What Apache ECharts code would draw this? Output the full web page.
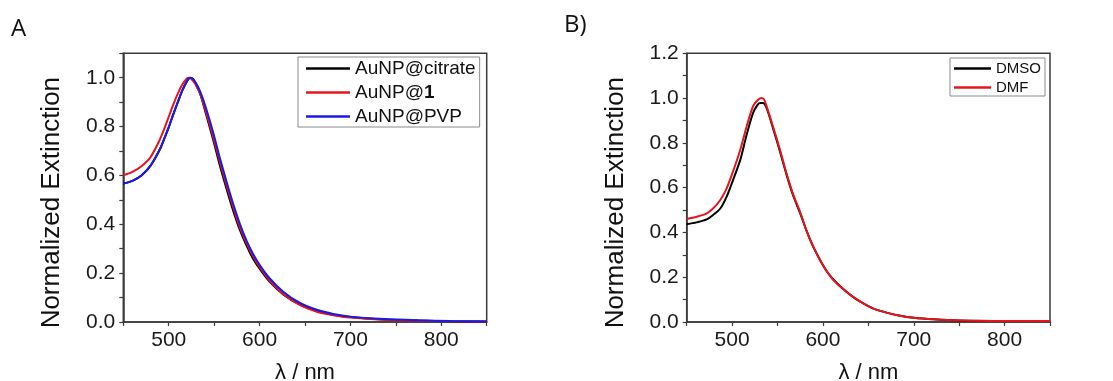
<!DOCTYPE html>
<html>
<head>
<meta charset="utf-8">
<script src="https://cdn.jsdelivr.net/npm/echarts@6/dist/echarts.min.js"></script>
<style>
html,body{margin:0;padding:0;background:#fff;}
#c{width:1113px;height:381px;}
</style>
</head>
<body>
<div id="c"></div>
<script>
// Panel A: wavelength (nm) and normalized extinction
const citrateX = [450,460,470,480,490,495,500,505,510,515,520,524,527,530,535,541.5,549,556,564,571,578.5,586,593,600,611,626,644,663,681,700,737,774,811,850];
const citrateY = [0.567,0.578,0.600,0.640,0.705,0.750,0.797,0.850,0.900,0.948,0.985,1.000,0.994,0.972,0.930,0.845,0.745,0.645,0.540,0.455,0.375,0.310,0.258,0.218,0.165,0.113,0.072,0.045,0.030,0.020,0.010,0.006,0.003,0.002];
const ligandX = [450,460,470,480,490,495,500,505,510,515,520,522,525,530,535,541,548,556,564,571,578,586,593,600,611,626,644,663,681,700,737,774,811,850];
const ligandY = [0.601,0.615,0.638,0.675,0.745,0.790,0.840,0.890,0.935,0.972,0.997,1.000,0.995,0.970,0.930,0.860,0.770,0.660,0.555,0.470,0.390,0.320,0.268,0.225,0.170,0.115,0.070,0.042,0.028,0.018,0.009,0.005,0.003,0.002];
const pvpX = [450,460,470,480,490,495,500,505,510,515,520,523,526,530,535,541.5,549,556,564,571,578.5,586,593,600,611,626,644,663,681,700,737,774,811,850];
const pvpY = [0.567,0.578,0.600,0.640,0.705,0.750,0.797,0.850,0.900,0.948,0.985,1.000,0.997,0.978,0.940,0.870,0.775,0.675,0.570,0.483,0.400,0.330,0.277,0.234,0.179,0.124,0.079,0.050,0.033,0.022,0.012,0.007,0.004,0.002];

// Panel B
const dmsoX = [450,461,472,479,487,494,501,509,516,523,528,531,534,538,545,553,560,567,575,582,589,597,604,611,622,633,644,655,670,685,700,722,750,800,850];
const dmsoY = [0.437,0.445,0.458,0.478,0.507,0.560,0.634,0.724,0.836,0.933,0.970,0.978,0.978,0.955,0.866,0.757,0.657,0.567,0.485,0.407,0.339,0.276,0.228,0.192,0.148,0.112,0.084,0.061,0.042,0.028,0.019,0.012,0.007,0.005,0.005];
const dmfX = [450,461,472,479,487,494,501,509,516,523,528,532,535,538,545,553,560,567,575,582,589,597,604,611,622,633,644,655,670,685,700,722,750,800,850];
const dmfY = [0.460,0.470,0.485,0.507,0.545,0.597,0.672,0.769,0.873,0.963,0.990,1.000,0.995,0.963,0.873,0.765,0.662,0.572,0.490,0.407,0.340,0.275,0.228,0.190,0.148,0.112,0.084,0.061,0.042,0.028,0.019,0.012,0.007,0.005,0.005];

const zip = (xs, ys) => xs.map((x, i) => [x, ys[i]]);
const FONT = "'Liberation Sans', Arial, sans-serif";
const AX = '#3a3a3a';

function xAxisCfg(gi) {
  return {
    type: 'value', gridIndex: gi, min: 450, max: 850, interval: 50,
    name: 'λ / nm', nameLocation: 'middle', nameGap: 40,
    nameTextStyle: {fontFamily: FONT, fontSize: 22, color: '#111'},
    axisLine: {show: true, lineStyle: {color: AX, width: 1.5}},
    axisTick: {show: true, inside: false, length: 4, lineStyle: {color: AX, width: 1.2}},
    axisLabel: {fontFamily: FONT, fontSize: 21, color: '#1a1a1a', margin: 8,
      formatter: v => (v % 100 === 0 && v > 450 && v < 850) ? String(v) : ''},
    splitLine: {show: false}
  };
}
function yAxisCfg(gi, max) {
  return {
    type: 'value', gridIndex: gi, min: 0, max: max, interval: 0.1,
    name: 'Normalized Extinction', nameLocation: 'middle', nameGap: 58, nameRotate: 90,
    nameTextStyle: {fontFamily: FONT, fontSize: 26, color: '#111', padding: [0, 30, 0, 0]},
    axisLine: {show: true, lineStyle: {color: AX, width: 1.5}},
    axisTick: {show: true, inside: false, length: 4, lineStyle: {color: AX, width: 1.2}},
    axisLabel: {fontFamily: FONT, fontSize: 21, color: '#1a1a1a', margin: 8,
      formatter: v => (Math.round(v * 10) % 2 === 0) ? v.toFixed(1) : ''},
    splitLine: {show: false}
  };
}
function lineSeries(name, xi, data, color) {
  return {
    name: name, type: 'line', xAxisIndex: xi, yAxisIndex: xi,
    data: data, showSymbol: false, symbol: 'none',
    smooth: 0.3,
    lineStyle: {color: color, width: 2}, itemStyle: {color: color},
    silent: true, animation: false
  };
}

const chart = echarts.init(document.getElementById('c'), null, {renderer: 'canvas'});
chart.setOption({
  backgroundColor: '#fff',
  animation: false,
  grid: [
    {left: 123.3, top: 53.3, width: 363.4, height: 268.7, show: true, borderColor: AX, borderWidth: 1.5, containLabel: false, outerBoundsMode: 'none'},
    {left: 686.7, top: 53.3, width: 363.3, height: 268.7, show: true, borderColor: AX, borderWidth: 1.5, containLabel: false, outerBoundsMode: 'none'}
  ],
  xAxis: [xAxisCfg(0), xAxisCfg(1)],
  yAxis: [yAxisCfg(0, 1.1), yAxisCfg(1, 1.2)],
  legend: [
    {
      data: ['AuNP@citrate', 'AuNP@1', 'AuNP@PVP'],
      orient: 'vertical', left: 298, top: 57,
      icon: 'rect', itemWidth: 44, itemHeight: 2.5, itemGap: 5,
      padding: [2, 4, 1, 8],
      borderColor: '#8a8a8a', borderWidth: 1,
      textStyle: {fontFamily: FONT, fontSize: 19, color: '#111',
        rich: {b: {fontFamily: FONT, fontSize: 19, fontWeight: 'bold', color: '#111'}}},
      formatter: n => n === 'AuNP@1' ? 'AuNP@{b|1}' : n,
      selectedMode: false
    },
    {
      data: ['DMSO', 'DMF'],
      orient: 'vertical', left: 950, top: 58,
      icon: 'rect', itemWidth: 37, itemHeight: 2.5, itemGap: 4,
      padding: [3, 4, 1, 4],
      borderColor: '#8a8a8a', borderWidth: 1,
      textStyle: {fontFamily: FONT, fontSize: 15, color: '#111'},
      selectedMode: false
    }
  ],
  graphic: [
    {type: 'text', left: 11, top: 17, style: {text: 'A', fontFamily: "'Open Sans', sans-serif", fontSize: 24, fill: '#111'}},
    {type: 'text', left: 564, top: 13, style: {text: 'B)', fontFamily: "'Open Sans', sans-serif", fontSize: 24, fill: '#111'}}
  ],
  series: [
    lineSeries('AuNP@citrate', 0, zip(citrateX, citrateY), '#000000'),
    lineSeries('AuNP@1', 0, zip(ligandX, ligandY), '#e8141c'),
    lineSeries('AuNP@PVP', 0, zip(pvpX, pvpY), '#1a1ae6'),
    lineSeries('DMSO', 1, zip(dmsoX, dmsoY), '#000000'),
    lineSeries('DMF', 1, zip(dmfX, dmfY), '#e8141c')
  ]
});
</script>
</body>
</html>
